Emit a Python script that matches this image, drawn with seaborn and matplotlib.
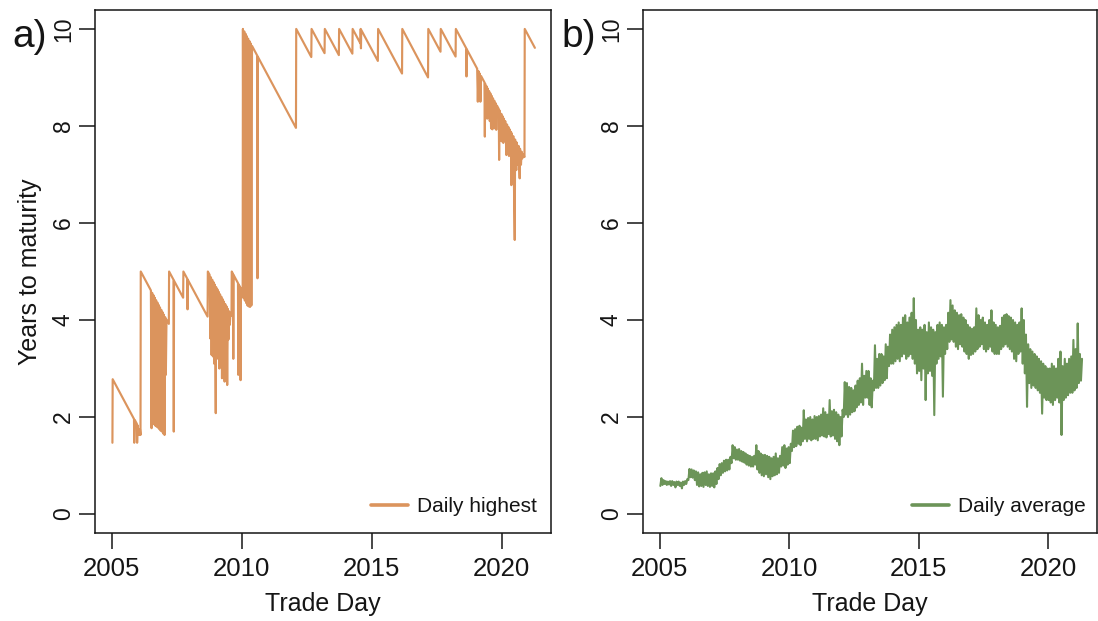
import numpy as np
import pandas as pd
import matplotlib
matplotlib.use("Agg")
import matplotlib.pyplot as plt
from matplotlib import font_manager
import seaborn as sns

# ---------------------------------------------------------------------------
# Data
# ---------------------------------------------------------------------------
# a) Daily highest years to maturity: vertices of the daily series
highest_year = [
    2005.02, 2005.03, 2005.85, 2005.86, 2005.88, 2005.96, 2005.97, 2005.99, 2006.04, 2006.08, 2006.10, 2006.11,
    2006.50, 2006.525, 2006.55, 2006.575, 2006.60, 2006.625, 2006.65, 2006.675, 2006.70, 2006.725, 2006.75,
    2006.775, 2006.80, 2006.825, 2006.85, 2006.875, 2006.90, 2006.925, 2006.95, 2006.975, 2007.00, 2007.025,
    2007.05, 2007.075, 2007.10, 2007.19, 2007.20,
    2007.37, 2007.38, 2007.39, 2007.74, 2007.75,
    2007.90, 2007.91, 2007.92, 2008.68, 2008.69,
    2008.76, 2008.785, 2008.81, 2008.835, 2008.86, 2008.885, 2008.91, 2008.935, 2008.96, 2008.995, 2009.01,
    2009.035, 2009.06, 2009.085, 2009.11, 2009.135, 2009.16, 2009.185, 2009.21, 2009.235, 2009.26, 2009.285,
    2009.31, 2009.335, 2009.36, 2009.385, 2009.41, 2009.435, 2009.46, 2009.485, 2009.51, 2009.535, 2009.56,
    2009.60, 2009.61,
    2009.66, 2009.67, 2009.68, 2009.85, 2009.86, 2009.87, 2009.90, 2009.91, 2009.92, 2009.94, 2009.95, 2009.96,
    2010.03, 2010.04,
    2010.065, 2010.09, 2010.115, 2010.14, 2010.165, 2010.19, 2010.215, 2010.24, 2010.265, 2010.29, 2010.315,
    2010.34, 2010.365, 2010.39, 2010.59, 2010.60, 2010.61, 2012.08, 2012.09,
    2012.67, 2012.68, 2013.18, 2013.19, 2013.73, 2013.74, 2014.25, 2014.26, 2014.56, 2014.57, 2014.58, 2014.59,
    2015.23, 2015.24, 2016.16, 2016.17, 2017.16, 2017.17, 2017.64, 2017.65, 2018.22, 2018.23,
    2018.63, 2018.64, 2018.65, 2019.05, 2019.075, 2019.10, 2019.125, 2019.15, 2019.175, 2019.20,
    2019.33, 2019.345, 2019.36, 2019.385, 2019.41, 2019.435, 2019.46, 2019.485, 2019.51, 2019.535, 2019.56,
    2019.585, 2019.61, 2019.635, 2019.66, 2019.685, 2019.71, 2019.735, 2019.76, 2019.785, 2019.81,
    2019.88, 2019.895, 2019.91, 2019.955, 2019.98, 2020.005, 2020.03, 2020.055, 2020.08, 2020.105, 2020.13,
    2020.175, 2020.20, 2020.225, 2020.25, 2020.275, 2020.30, 2020.325, 2020.35, 2020.365, 2020.38, 2020.415,
    2020.44, 2020.495, 2020.51, 2020.555, 2020.57, 2020.615, 2020.64, 2020.685, 2020.70, 2020.735, 2020.76,
    2020.785, 2020.81, 2020.87, 2020.88, 2021.27,
]
highest_value = [
    1.47, 2.78, 1.96, 1.47, 1.94, 1.86, 1.47, 1.83, 1.63, 1.75, 1.63, 5.00,
    4.61, 1.77, 4.56, 1.90, 4.51, 1.85, 4.46, 1.82, 4.41, 1.80, 4.36,
    1.78, 4.31, 1.75, 4.26, 1.72, 4.21, 1.70, 4.16, 1.66, 4.11, 1.63,
    4.06, 2.87, 4.01, 3.92, 5.00,
    4.83, 1.70, 4.81, 4.46, 5.00,
    4.85, 4.22, 4.83, 4.07, 5.00,
    4.93, 3.62, 4.88, 3.28, 4.83, 3.25, 4.78, 3.10, 4.73, 2.08, 4.68,
    3.45, 4.63, 3.20, 4.58, 3.00, 4.53, 3.40, 4.48, 2.80, 4.43, 3.10,
    4.38, 2.73, 4.33, 2.90, 4.28, 2.66, 4.23, 3.60, 4.18, 3.90, 4.13,
    4.09, 5.00,
    4.95, 3.20, 4.93, 4.76, 2.87, 4.74, 4.71, 3.76, 4.69, 4.67, 2.76, 4.65,
    4.58, 10.00,
    4.45, 9.95, 4.40, 9.90, 4.35, 9.85, 4.30, 9.80, 4.28, 9.75, 4.27,
    9.70, 4.30, 9.65, 9.45, 4.86, 9.43, 7.96, 10.00,
    9.42, 10.00, 9.50, 10.00, 9.46, 10.00, 9.49, 10.00, 9.70, 10.00, 9.60, 9.98,
    9.34, 10.00, 9.08, 10.00, 9.00, 10.00, 9.53, 10.00, 9.43, 10.00,
    9.60, 9.02, 9.58, 9.18, 8.50, 9.13, 8.52, 9.08, 8.50, 9.03,
    8.90, 7.78, 8.87, 8.20, 8.82, 8.15, 8.77, 8.18, 8.72, 8.10, 8.67,
    7.95, 8.62, 7.93, 8.57, 7.98, 8.52, 7.95, 8.47, 7.92, 8.42,
    8.35, 7.30, 8.32, 7.70, 8.25, 7.68, 8.20, 7.65, 8.15, 7.70, 8.10,
    7.40, 8.03, 7.42, 7.98, 7.38, 7.93, 7.55, 7.88, 6.78, 7.85, 7.30,
    7.79, 5.65, 7.72, 7.09, 7.66, 7.20, 7.59, 6.92, 7.53, 7.20, 7.47,
    7.33, 7.42, 7.36, 10.00, 9.61,
]

# b) Daily average years to maturity: monthly low / high of the daily values
avg_start_year = 2005
avg_low = [
    0.58, 0.60, 0.62, 0.60, 0.61, 0.58, 0.60, 0.55, 0.60, 0.58, 0.53, 0.60,  # 2005
    0.62, 0.70, 0.76, 0.75, 0.70, 0.60, 0.57, 0.58, 0.56, 0.60, 0.58, 0.56,  # 2006
    0.58, 0.55, 0.62, 0.72, 0.80, 0.85, 0.88, 0.90, 0.92, 1.05, 1.15, 1.12,  # 2007
    1.12, 1.10, 1.08, 1.06, 1.02, 1.00, 0.98, 0.98, 1.02, 0.92, 0.85, 0.80,  # 2008
    0.78, 0.82, 0.76, 0.72, 0.78, 0.80, 0.82, 0.85, 0.98, 1.00, 0.95, 1.02,  # 2009
    1.05, 1.30, 1.38, 1.40, 1.45, 1.42, 1.50, 1.55, 1.50, 1.55, 1.52, 1.55,  # 2010
    1.55, 1.52, 1.60, 1.62, 1.60, 1.58, 1.65, 1.60, 1.62, 1.55, 1.50, 1.42,  # 2011
    1.60, 2.00, 2.05, 2.00, 2.05, 2.10, 2.12, 2.20, 2.25, 2.30, 2.25, 2.40,  # 2012
    2.40, 2.25, 2.20, 2.55, 2.60, 2.60, 2.65, 2.70, 2.76, 2.80, 3.05, 3.10,  # 2013
    3.10, 3.15, 3.20, 3.15, 3.25, 3.30, 3.20, 3.25, 3.30, 3.20, 3.10, 2.90,  # 2014
    2.95, 2.76, 3.00, 2.35, 2.90, 2.95, 2.85, 2.04, 3.10, 3.20, 3.25, 2.42,  # 2015
    3.30, 3.40, 3.55, 3.60, 3.55, 3.45, 3.40, 3.50, 3.45, 3.35, 3.30, 3.20,  # 2016
    3.28, 3.30, 3.35, 3.40, 3.45, 3.50, 3.40, 3.35, 3.40, 3.45, 3.35, 3.30,  # 2017
    3.30, 3.30, 3.40, 3.45, 3.50, 3.45, 3.40, 3.35, 3.20, 3.15, 3.30, 3.35,  # 2018
    3.10, 2.90, 2.21, 2.70, 2.60, 2.65, 2.60, 2.55, 2.50, 2.07, 2.40, 2.35,  # 2019
    2.35, 2.30, 2.25, 2.35, 2.40, 2.30, 1.63, 2.35, 2.40, 2.45, 2.50, 2.50,  # 2020
    2.55, 2.60, 2.70, 2.75,                                                  # 2021
]
avg_high = [
    0.74, 0.70, 0.68, 0.67, 0.68, 0.68, 0.66, 0.67, 0.67, 0.65, 0.67, 0.68,  # 2005
    0.72, 0.93, 0.92, 0.90, 0.88, 0.86, 0.82, 0.85, 0.86, 0.88, 0.82, 0.84,  # 2006
    0.84, 0.88, 0.95, 1.03, 1.05, 1.10, 1.12, 1.12, 1.18, 1.42, 1.38, 1.33,  # 2007
    1.34, 1.30, 1.28, 1.25, 1.22, 1.20, 1.18, 1.20, 1.42, 1.30, 1.25, 1.22,  # 2008
    1.22, 1.20, 1.18, 1.15, 1.18, 1.25, 1.15, 1.20, 1.38, 1.42, 1.35, 1.38,  # 2009
    1.45, 1.72, 1.75, 1.80, 1.82, 1.78, 2.14, 1.95, 1.98, 2.00, 1.95, 2.02,  # 2010
    2.00, 2.02, 2.05, 2.18, 2.10, 2.05, 2.35, 2.12, 2.15, 2.10, 2.05, 2.00,  # 2011
    2.15, 2.72, 2.70, 2.62, 2.60, 2.55, 2.65, 2.75, 2.80, 3.10, 2.85, 2.95,  # 2012
    2.95, 2.80, 2.75, 3.48, 3.20, 3.30, 3.30, 3.25, 3.50, 3.45, 3.70, 3.80,  # 2013
    3.85, 3.90, 3.95, 3.90, 4.05, 4.10, 3.95, 4.05, 4.15, 4.45, 4.00, 3.80,  # 2014
    3.85, 3.80, 3.90, 3.75, 3.95, 3.85, 3.80, 3.75, 3.90, 3.95, 3.90, 3.85,  # 2015
    3.90, 4.15, 4.41, 4.30, 4.20, 4.15, 4.10, 4.12, 4.05, 4.00, 3.90, 3.85,  # 2016
    3.82, 3.85, 4.24, 4.10, 4.00, 4.05, 3.95, 3.90, 4.00, 4.20, 3.95, 3.90,  # 2017
    3.85, 3.88, 4.05, 4.10, 4.12, 4.08, 4.05, 4.00, 3.95, 3.90, 3.95, 4.24,  # 2018
    4.00, 3.70, 3.50, 3.40, 3.35, 3.30, 3.25, 3.20, 3.15, 3.10, 3.05, 3.00,  # 2019
    3.00, 3.10, 3.05, 3.00, 3.20, 3.35, 3.05, 3.20, 3.10, 3.20, 3.25, 3.59,  # 2020
    3.40, 3.93, 3.30, 3.20,                                                  # 2021
]

x_ticks = [2005, 2010, 2015, 2020]
y_ticks = [0, 2, 4, 6, 8, 10]

ORANGE = "#DB945D"
GREEN = "#6C9458"
INK = "#151515"

# ---------------------------------------------------------------------------
# Style
# ---------------------------------------------------------------------------
sns.set_style("ticks")
plt.rcParams["font.family"] = ["Liberation Sans", "DejaVu Sans"]
plt.rcParams["path.simplify"] = False   # keep every daily spike
installed = {f.name for f in font_manager.fontManager.ttflist}
narrow = "Liberation Sans Narrow" in installed
ytick_family = ["Liberation Sans Narrow", "Liberation Sans"] if narrow else ["Liberation Sans"]
ytick_size = 20 if narrow else 16.5

W, H = 1098, 621
fig = plt.figure(figsize=(W / 100, H / 100), dpi=100)
fig.patch.set_facecolor("white")

top, bottom = 10, 533
ax1 = fig.add_axes([95 / W, (H - bottom) / H, (551 - 95) / W, (bottom - top) / H])
ax2 = fig.add_axes([643 / W, (H - bottom) / H, (1097 - 643) / W, (bottom - top) / H])

# Highest
df_high = pd.DataFrame({"year": highest_year, "value": highest_value})
sns.lineplot(data=df_high, x="year", y="value", ax=ax1, color=ORANGE,
             linewidth=1.55, estimator=None, sort=False, label="Daily highest")

# Average: low and high of each month drawn as a continuous daily-like trace
n = len(avg_low)
month_t = avg_start_year + np.arange(n) / 12 + 0.02
t_pairs = np.column_stack([month_t, month_t + 1 / 24]).ravel()
v_pairs = np.column_stack([avg_low, avg_high]).ravel()
df_avg = pd.DataFrame({"year": t_pairs, "value": v_pairs})
sns.lineplot(data=df_avg, x="year", y="value", ax=ax2, color=GREEN,
             linewidth=1.5, estimator=None, sort=False, label="Daily average")

for ax, legend_x in ((ax1, (537 - 95) / 456), (ax2, (1086 - 643) / 454)):
    ax.set_xlim(2004.35, 2021.89)
    ax.set_ylim(-0.39, 10.39)
    ax.set_xticks(x_ticks)
    ax.set_xticklabels([str(v) for v in x_ticks], fontsize=18.5, color=INK)
    ax.set_yticks(y_ticks)
    ax.set_yticklabels([str(v) for v in y_ticks], rotation=90, va="center",
                       fontsize=ytick_size, family=ytick_family, color=INK)
    ax.tick_params(axis="x", length=11.5, width=1.1, pad=5.5, color=INK)
    ax.tick_params(axis="y", length=11.5, width=1.1, pad=3, color=INK)
    for s in ax.spines.values():
        s.set_linewidth(1.1)
        s.set_color(INK)
    ax.grid(False)
    ax.set_xlabel("Trade Day", fontsize=18, color=INK)
    ax.xaxis.set_label_coords(0.5, (bottom - 604) / (bottom - top))
    ax.xaxis.label.set_va("center")
    ax.set_ylabel("")
    leg = ax.legend(loc="center right", bbox_to_anchor=(legend_x, (bottom - 507) / (bottom - top)),
                    frameon=False, fontsize=15, handlelength=1.75, handletextpad=0.45,
                    borderpad=0, borderaxespad=0)
    for h in leg.legend_handles:
        h.set_linewidth(2.6)
    for t in leg.get_texts():
        t.set_color(INK)

ax1.set_ylabel("Years to maturity", fontsize=18, color=INK)
ax1.yaxis.set_label_coords((30 - 95) / 456, 0.5)
ax1.yaxis.label.set_va("center")

fig.text(12 / W, 1 - 47 / H, "a)", fontsize=28, ha="left", va="baseline", color=INK)
fig.text(561 / W, 1 - 47 / H, "b)", fontsize=28, ha="left", va="baseline", color=INK)

fig.savefig("out.png", dpi=100, facecolor="white")
